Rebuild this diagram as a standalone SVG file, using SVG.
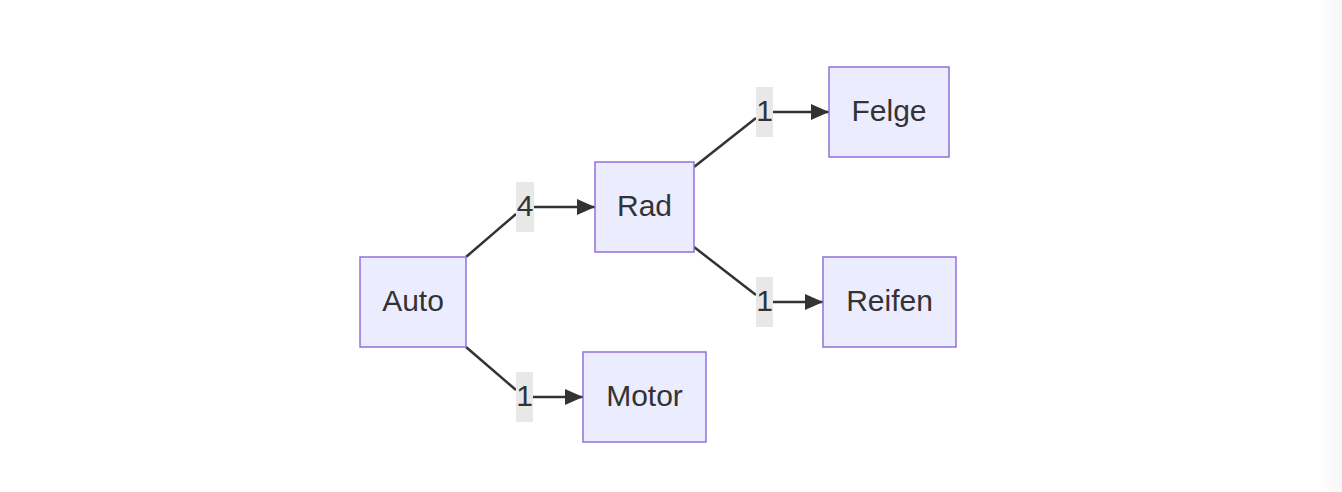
<svg xmlns="http://www.w3.org/2000/svg" width="1342" height="492" viewBox="0 0 1342 492">
  <style>
    .node rect { fill: #ECECFF; stroke: #9370DB; stroke-width: 1.5; }
    .node text, .lbl text { font-family: "Liberation Sans", Arial, sans-serif; font-size: 30px; fill: #333333; text-anchor: middle; }
    .edge { fill: none; stroke: #333333; stroke-width: 2.5; }
    .lbl rect { fill: #e8e8e8; }
  </style>
  <defs>
    <linearGradient id="edgeShade" x1="0" x2="1" y1="0" y2="0">
      <stop offset="0" stop-color="#ffffff"/>
      <stop offset="1" stop-color="#f7f7f7"/>
    </linearGradient>
    <marker id="arrow" viewBox="0 0 18 16" refX="18" refY="8" markerWidth="18" markerHeight="16" markerUnits="userSpaceOnUse" orient="auto">
      <path d="M0,0 L18,8 L0,16 z" fill="#333333"/>
    </marker>
  </defs>
  <rect x="0" y="0" width="1342" height="492" fill="#ffffff"/>
  <rect x="1318" y="0" width="24" height="492" fill="url(#edgeShade)"/>

  <g id="connectors">
    <path class="edge" d="M466,257 L516,214" />
    <path class="edge" d="M534,207 L595,207" marker-end="url(#arrow)"/>
    <path class="edge" d="M694,167 L756,118" />
    <path class="edge" d="M773,112 L829,112" marker-end="url(#arrow)"/>
    <path class="edge" d="M694,247 L756,295" />
    <path class="edge" d="M773,302 L823,302" marker-end="url(#arrow)"/>
    <path class="edge" d="M466,347 L516,390" />
    <path class="edge" d="M533,397 L583,397" marker-end="url(#arrow)"/>
    <g class="lbl">
      <rect x="516" y="182" width="18" height="50"/>
      <text x="525" y="216">4</text>
      <rect x="756" y="87" width="17" height="50"/>
      <text x="764.5" y="121">1</text>
      <rect x="756" y="277" width="17" height="50"/>
      <text x="764.5" y="311">1</text>
      <rect x="516" y="372" width="17" height="50"/>
      <text x="524.5" y="406">1</text>
    </g>
  </g>

  <g id="Auto" class="node">
    <rect x="360" y="257" width="106" height="90"/>
    <text x="413" y="310.5">Auto</text>
  </g>
  <g id="Rad" class="node">
    <rect x="595" y="162" width="99" height="90"/>
    <text x="644.5" y="215.5">Rad</text>
  </g>
  <g id="Felge" class="node">
    <rect x="829" y="67" width="120" height="90"/>
    <text x="889" y="120.5">Felge</text>
  </g>
  <g id="Reifen" class="node">
    <rect x="823" y="257" width="133" height="90"/>
    <text x="889.5" y="310.5">Reifen</text>
  </g>
  <g id="Motor" class="node">
    <rect x="583" y="352" width="123" height="90"/>
    <text x="644.5" y="405.5">Motor</text>
  </g>
</svg>
